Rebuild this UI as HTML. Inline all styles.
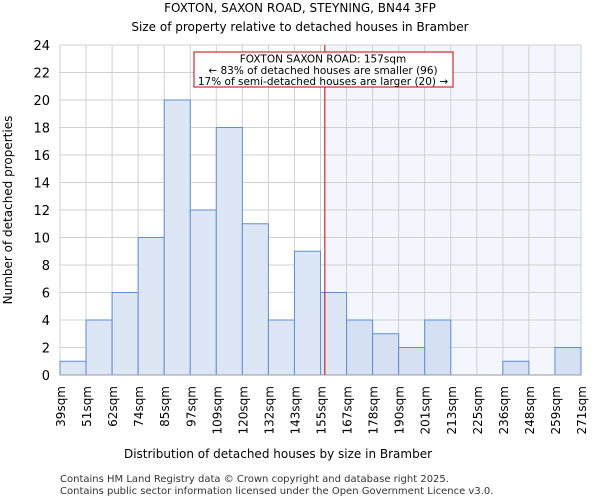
<!DOCTYPE html>
<html><head><meta charset="utf-8"><style>
body{margin:0;background:#fff;font-family:"DejaVu Sans","Liberation Sans",sans-serif;}
svg text{font-family:"DejaVu Sans","Liberation Sans",sans-serif;}
</style></head><body>
<svg width="600" height="500" id="c">
<text x="300" y="12" text-anchor="middle" font-size="12">FOXTON, SAXON ROAD, STEYNING, BN44 3FP</text>
<text x="300" y="31" text-anchor="middle" font-size="12">Size of property relative to detached houses in Bramber</text>
<text x="278" y="458" text-anchor="middle" font-size="12">Distribution of detached houses by size in Bramber</text>
<text transform="translate(12,210) rotate(-90)" text-anchor="middle" font-size="12">Number of detached properties</text>
<text x="60" y="482" font-size="10" fill="#333">Contains HM Land Registry data © Crown copyright and database right 2025.</text>
<text x="60" y="494" font-size="10" fill="#333">Contains public sector information licensed under the Open Government Licence v3.0.</text>
<g id="plot"></g>
</svg>
<script>
const edgeLabels=["39sqm","51sqm","62sqm","74sqm","85sqm","97sqm","109sqm","120sqm","132sqm","143sqm","155sqm","167sqm","178sqm","190sqm","201sqm","213sqm","225sqm","236sqm","248sqm","259sqm","271sqm"];
const edgeValues=[39,51,62,74,85,97,109,120,132,143,155,167,178,190,201,213,225,236,248,259,271];
const counts=[1,4,6,10,20,12,18,11,4,9,6,4,3,2,4,0,0,1,0,2];
const yTicks=[0,2,4,6,8,10,12,14,16,18,20,22,24];
const marker=157;
const L=60,R=581,T=45,B=375,yMax=24;
const n=counts.length;
const bw=(R-L)/n;
const xi=i=>L+i*bw;
const xv=v=>{for(let i=0;i<edgeValues.length-1;i++){if(v<=edgeValues[i+1])return xi(i)+(v-edgeValues[i])/(edgeValues[i+1]-edgeValues[i])*bw;}return R;};
const y=v=>B-(v/yMax)*(B-T);
const g=document.getElementById('plot');
const NS="http://www.w3.org/2000/svg";
function mk(t,a){const e=document.createElementNS(NS,t);for(const k in a)e.setAttribute(k,a[k]);g.appendChild(e);return e;}
const mx=xv(marker);
let e=mk('rect',{x:mx,y:T,width:R-mx,height:B-T,fill:'#f3f6fc'});


for(let i=0;i<=n;i++){e=mk('line',{x1:xi(i),x2:xi(i),y1:T,y2:B,stroke:'#d0d0d0'});

}
yTicks.forEach(t=>{e=mk('line',{x1:L,x2:R,y1:y(t),y2:y(t),stroke:'#d0d0d0'});


e=mk('text',{x:L-10,y:y(t)+5,'text-anchor':'end','font-size':'13'});e.textContent=t;

});
counts.forEach((c,i)=>{if(c<=0)return;const right=xi(i)>=mx-1;
e=mk('rect',{x:xi(i),y:y(c),width:bw,height:B-y(c),fill:right?'#d5e0f2':'#dce6f5',stroke:'#5b8fd6','stroke-width':1});

});
edgeLabels.forEach((l,i)=>{e=mk('text',{transform:`translate(${xi(i)+5},386) rotate(-90)`,'text-anchor':'end','font-size':'12'});e.textContent=l;

});
e=mk('line',{x1:L,x2:R,y1:B,y2:B,stroke:'#999'});


e=mk('line',{x1:mx,x2:mx,y1:T,y2:B,stroke:'#cc0000','stroke-width':1});


e=mk('rect',{x:194,y:52,width:259,height:35,fill:'#fff',stroke:'#cc0000'});


["FOXTON SAXON ROAD: 157sqm","← 83% of detached houses are smaller (96)","17% of semi-detached houses are larger (20) →"].forEach((s,k)=>{
e=mk('text',{x:323,y:62.5+k*11.3,'text-anchor':'middle','font-size':'10.5'});e.textContent=s;

});
</script>
</body></html>
